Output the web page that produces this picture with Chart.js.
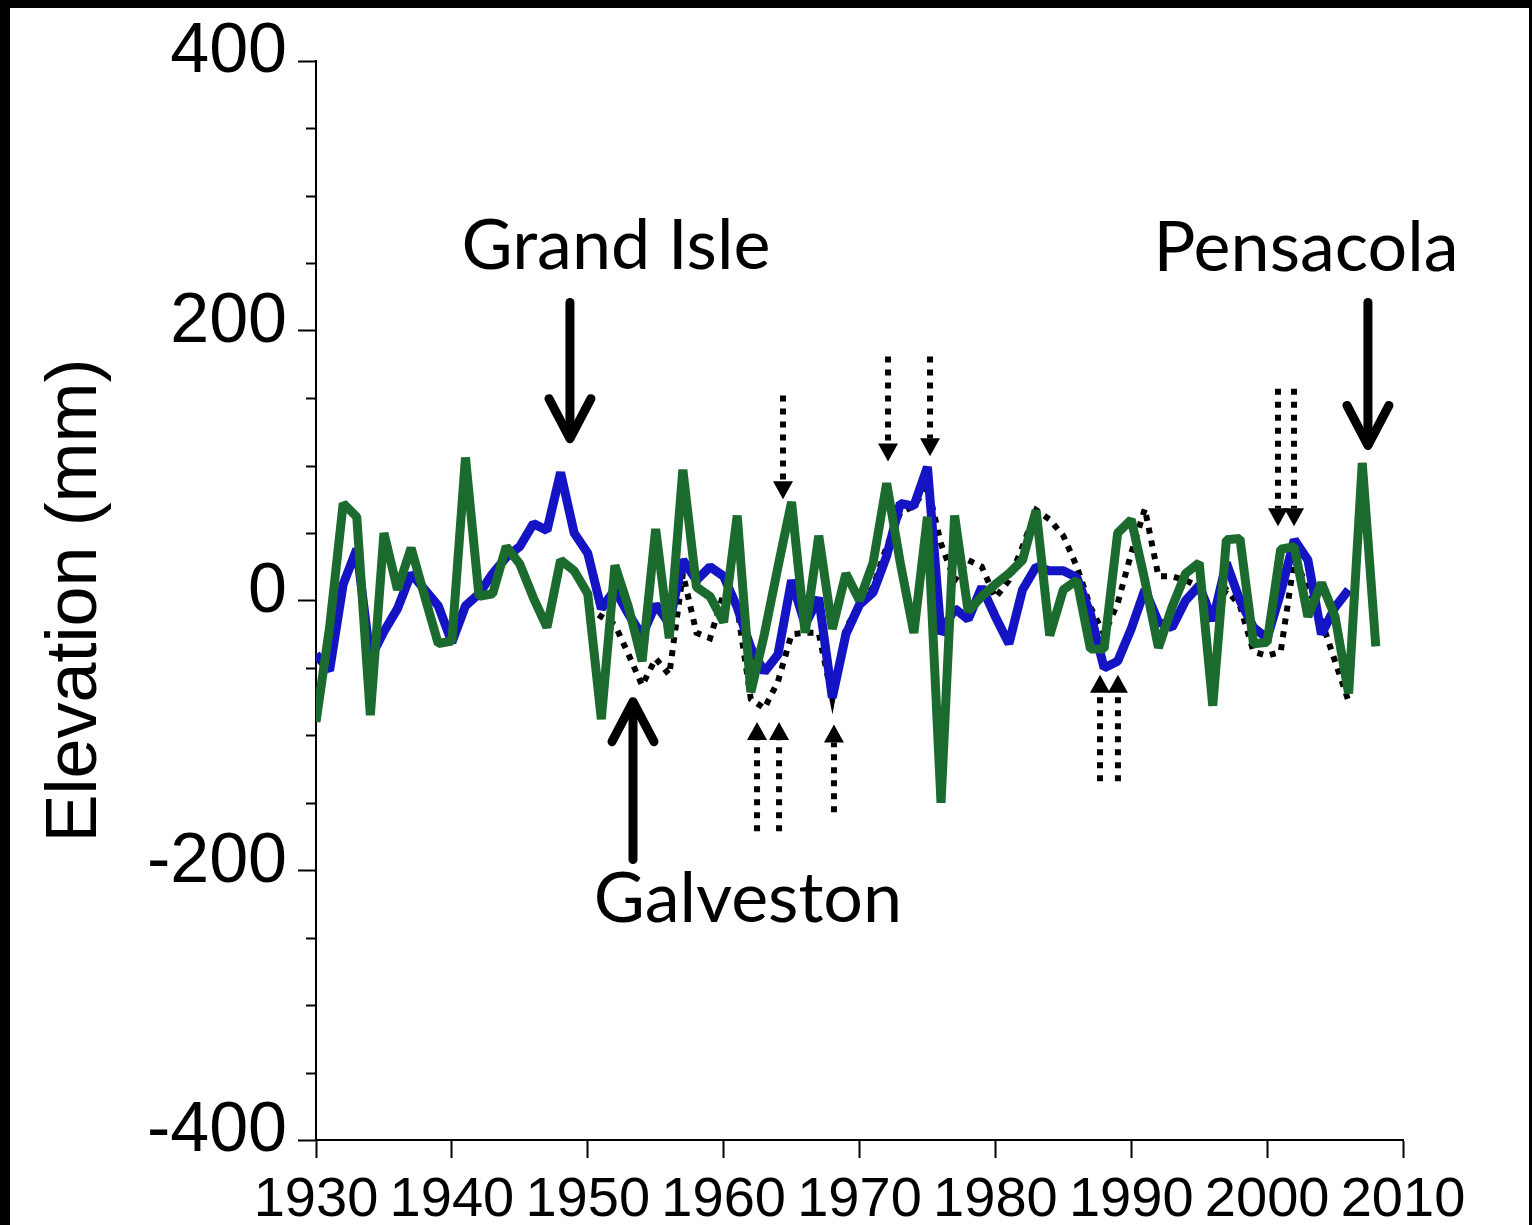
<!DOCTYPE html>
<html lang="en">
<head>
<meta charset="UTF-8" />
<title>Gulf Coast Elevation</title>
<script src="https://cdn.jsdelivr.net/npm/chart.js"></script>
<style>
  html, body { margin: 0; padding: 0; background: #000; }
  .panel { position: absolute; left: 10px; top: 8px; width: 1519px; height: 1217px; background: #fff; }
  canvas { display: block; }
</style>
</head>
<body>
<div class="panel"><canvas id="chart" width="1519" height="1217"></canvas></div>
<script>
  // years on the x axis
  const years = [
    1930, 1931, 1932, 1933, 1934, 1935, 1936, 1937, 1938, 1939,
    1940, 1941, 1942, 1943, 1944, 1945, 1946, 1947, 1948, 1949,
    1950, 1951, 1952, 1953, 1954, 1955, 1956, 1957, 1958, 1959,
    1960, 1961, 1962, 1963, 1964, 1965, 1966, 1967, 1968, 1969,
    1970, 1971, 1972, 1973, 1974, 1975, 1976, 1977, 1978, 1979,
    1980, 1981, 1982, 1983, 1984, 1985, 1986, 1987, 1988, 1989,
    1990, 1991, 1992, 1993, 1994, 1995, 1996, 1997, 1998, 1999,
    2000, 2001, 2002, 2003, 2004, 2005, 2006, 2007, 2008
  ];

  // Pensacola (green), 1930-2008
  const pensacola = [
    -90, -20, 72, 62, -85, 50, 8, 39, 3, -32,
    -30, 106, 3, 5, 40, 27, 2, -20, 30, 22,
    5, -88, 26, -5, -45, 53, -28, 97, 10, 3,
    -16, 63, -68, -25, 25, 73, -24, 48, -21, 20,
    0, 28, 87, 28, -24, 62, -150, 63, -8, 3,
    12, 20, 30, 67, -26, 8, 15, -36, -36, 50,
    60, 15, -35, -5, 20, 28, -78, 45, 46, -32,
    -31, 38, 40, -12, 13, -12, -69, 102, -34
  ];

  // Grand Isle (blue), 1930-2006
  const grandIsle = [
    -40, -52, 12, 38, -43, -23, -6, 20, 8, -4,
    -31, -4, 5, 20, 32, 40, 57, 52, 95, 50,
    35, -6, 8, -10, -26, -3, -17, 30, 15, 25,
    18, -5, -35, -53, -40, 15, -18, 2, -72, -25,
    -3, 6, 33, 72, 70, 99, -25, -6, -14, 10,
    -12, -32, 8, 25, 22, 22, 17, -10, -50, -45,
    -21, 8, -16, -20, 0, 11, -15, 28, 0, -20,
    -28, 6, 45, 30, -25, -5, 8
  ];

  // Galveston (black dotted), 1950-2006
  const galvestonStart = 1950;
  const galveston = [
    -5, -12, -18, -40, -63, -43, -55, 20, -24, -28,
    5, -5, -73, -80, -60, -25, -24, -24, -73, -20,
    -5, 10, 40, 65, 70, 85, 42, 15, 30, 25,
    2, 15, 40, 67, 60, 48, 25, -5, -25, -2,
    35, 68, 18, 18, 15, 10, -9, 8, -4, -38,
    -41, -38, 30, 10, -15, -45, -75
  ];

  const yLabelTicks = [-400, -200, 0, 200, 400];
  const yMinorTicks = [-350, -300, -250, -150, -100, -50, 50, 100, 150, 250, 300, 350];

  // annotations, in data units: [year, from, to]
  const solidArrows = [[1948.69, 221, 120], [2007.42, 221, 115], [1953.33, -192, -75]];
  const dottedArrows = [
    [1964.37, 152, 75], [1972.10, 181, 103], [1975.19, 181, 107],
    [2000.80, 157, 55], [2001.98, 157, 55],
    [1962.46, -171, -90], [1964.08, -171, -90], [1968.12, -157, -92],
    [1987.70, -134, -55], [1989.02, -134, -55]
  ];
  const siteLabels = [['Grand Isle', 1952.08, 246], ['Pensacola', 2002.86, 244], ['Galveston', 1961.79, -238]];

  function series(start, values) {
    const i0 = years.indexOf(start);
    return values.map((v, i) => ({ x: years[i0 + i], y: v }));
  }

  const annotate = {
    id: 'annotate',
    afterDraw(chart) {
      const { ctx, chartArea, scales: { x, y } } = chart;
      ctx.save();
      ctx.strokeStyle = '#000';
      ctx.fillStyle = '#000';

      // minor ticks on the y axis
      ctx.lineWidth = 2;
      yMinorTicks.forEach(v => {
        const py = Math.round(y.getPixelForValue(v)) + 0.5;
        ctx.beginPath();
        ctx.moveTo(chartArea.left - 10, py);
        ctx.lineTo(chartArea.left, py);
        ctx.stroke();
      });

      // solid arrows
      solidArrows.forEach(([yr, from, to]) => {
        const px = x.getPixelForValue(yr);
        const y0 = y.getPixelForValue(from), y1 = y.getPixelForValue(to);
        const dir = Math.sign(y1 - y0);
        ctx.lineWidth = 9;
        ctx.lineCap = 'round';
        ctx.lineJoin = 'round';
        ctx.beginPath();
        ctx.moveTo(px, y0);
        ctx.lineTo(px, y1 - dir * 3);
        ctx.stroke();
        ctx.beginPath();
        ctx.moveTo(px - 21, y1 - dir * 40);
        ctx.lineTo(px, y1);
        ctx.lineTo(px + 21, y1 - dir * 40);
        ctx.stroke();
      });

      // dotted arrows
      dottedArrows.forEach(([yr, from, to]) => {
        const px = x.getPixelForValue(yr);
        const y0 = y.getPixelForValue(from), y1 = y.getPixelForValue(to);
        const dir = Math.sign(y1 - y0);
        ctx.lineWidth = 6;
        ctx.lineCap = 'butt';
        ctx.setLineDash([6, 7]);
        ctx.beginPath();
        ctx.moveTo(px, y0);
        ctx.lineTo(px, y1 - dir * 18);
        ctx.stroke();
        ctx.setLineDash([]);
        ctx.beginPath();
        ctx.moveTo(px - 10, y1 - dir * 18);
        ctx.lineTo(px, y1);
        ctx.lineTo(px + 10, y1 - dir * 18);
        ctx.closePath();
        ctx.fill();
      });

      // site names
      ctx.font = '70px Lato';
      ctx.textAlign = 'center';
      ctx.textBaseline = 'alphabetic';
      siteLabels.forEach(([text, yr, v]) => {
        ctx.fillText(text, x.getPixelForValue(yr), y.getPixelForValue(v));
      });
      ctx.restore();
    }
  };

  new Chart(document.getElementById('chart'), {
    type: 'line',
    data: {
      datasets: [
        {
          label: 'Pensacola',
          data: series(1930, pensacola),
          borderColor: '#1c6b2e',
          borderWidth: 9,
          borderJoinStyle: 'bevel',
          pointRadius: 0,
          tension: 0
        },
        {
          label: 'Grand Isle',
          data: series(1930, grandIsle),
          borderColor: '#1414c4',
          borderWidth: 9,
          borderJoinStyle: 'bevel',
          pointRadius: 0,
          tension: 0
        },
        {
          label: 'Galveston',
          data: series(galvestonStart, galveston),
          borderColor: '#000',
          borderWidth: 6,
          borderDash: [6, 7],
          borderCapStyle: 'butt',
          pointRadius: 0,
          tension: 0
        }
      ]
    },
    options: {
      responsive: false,
      animation: false,
      layout: { autoPadding: false, padding: { left: 0, top: 45, right: 126, bottom: 0 } },
      plugins: {
        legend: { display: false },
        tooltip: { enabled: false }
      },
      scales: {
        x: {
          type: 'linear',
          min: 1930,
          max: 2010,
          ticks: {
            stepSize: 10,
            color: '#000',
            font: { family: 'Liberation Sans', size: 56 },
            padding: 9,
            maxRotation: 0,
            callback: v => String(v)
          },
          grid: { drawOnChartArea: false, drawTicks: true, tickLength: 18, tickColor: '#000', tickWidth: 2 },
          border: { display: true, color: '#000', width: 2 },
          afterFit: s => { s.height = 85; }
        },
        y: {
          min: -400,
          max: 400,
          afterBuildTicks: s => { s.ticks = yLabelTicks.map(v => ({ value: v })); },
          ticks: {
            color: '#000',
            font: { family: 'Liberation Sans', size: 70 },
            padding: 11,
            labelOffset: -8,
            callback: v => String(v)
          },
          grid: { drawOnChartArea: false, drawTicks: true, tickLength: 18, tickColor: '#000', tickWidth: 2 },
          border: { display: true, color: '#000', width: 2 },
          title: {
            display: true,
            text: 'Elevation (mm)',
            color: '#000',
            font: { family: 'Liberation Sans', size: 72 },
            padding: { top: 23, bottom: 0 }
          },
          afterFit: s => { s.width = 306; }
        }
      }
    },
    plugins: [annotate]
  });
</script>
</body>
</html>
